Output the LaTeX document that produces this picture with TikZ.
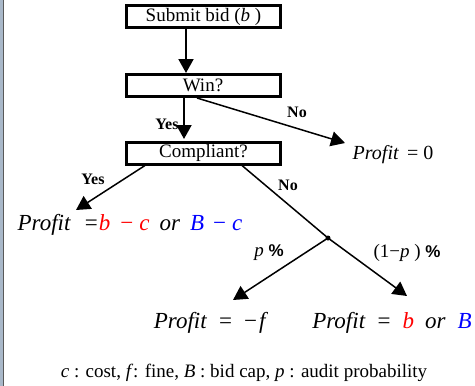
\documentclass[tikz,border=0pt]{standalone}
\usepackage{fontspec}
\setmainfont{Liberation Serif}
\setsansfont{Liberation Sans}
\usetikzlibrary{arrows.meta}
\definecolor{stripblue}{RGB}{169,184,201}
\newcommand\gp[1]{\hspace{#1pt}}
\newcommand\pct{\textsf{\fontsize{17}{19}\selectfont\bfseries\%}}
\begin{document}
\begin{tikzpicture}[x=1pt, y=-1pt, every node/.style={font=\fontsize{19}{21}\selectfont, inner sep=0pt},
  stepbox/.style={draw, line width=3pt, minimum width=154pt, minimum height=22pt},
  lbl/.style={font=\fontsize{16}{18}\selectfont\bfseries},
  res/.style={font=\fontsize{23}{25}\selectfont},
  arr/.style={line width=1.5pt, -{Triangle[length=14pt,width=15pt]}}]
\useasboundingbox (0,0) rectangle (475,386);
\fill[stripblue] (0,0) rectangle (3,386);
\draw[line width=1pt, gray!70!black] (3.5,0) -- (3.5,386);
% boxes
\node[stepbox] (sub) at (203.5,16.5) {Submit bid (\textit{b} )};
\node[stepbox] (win) at (203,85.5) {Win?};
\node[stepbox] (comp) at (203.5,153) {Compliant?};
% outcomes
\node[font=\fontsize{20}{22}\selectfont] (zero) at (393,155) {\textit{Profit}\gp{8}=\gp{5}0};
\node[res] (ok) at (130,225) {\textit{Profit}\gp{14}=\gp{1}\textcolor{red}{\textit{b}\gp{10}−\gp{6}\textit{c}}\gp{10}\textit{or}\gp{10}\textcolor{blue}{\textit{B}\gp{9}−\gp{6}\textit{c}}};
\node[res] (fine) at (211,323) {\textit{Profit}\gp{12}=\gp{12}−\gp{2}\textit{f}};
\node[res] (pass) at (392,323) {\textit{Profit}\gp{12}=\gp{12}\textcolor{red}{\textit{b}}\gp{11}\textit{or}\gp{12}\textcolor{blue}{\textit{B}}};
\fill (328,238) circle (2.5pt) coordinate (split);
% labels
\node[lbl] (y1) at (167,124) {Yes};
\node[lbl] (n1) at (297,112) {No};
\node[lbl] (y2) at (93,179) {Yes};
\node[lbl] (n2) at (288,185) {No};
\node (pp) at (269,253) {\textit{p} \pct};
\node (qq) at (407,253) {(1−\textit{p} ) \pct};
\node (note) at (244,373) {\textit{c} : cost, \textit{f}: fine, \textit{B} : bid cap, \textit{p} : audit probability};
% arrow ends
\coordinate (zeroTip) at (345,143);
\coordinate (okTip) at (76,210);
\coordinate (fineTip) at (233,300);
\coordinate (passTip) at (407,296);
\draw[arr, line width=2pt] ([xshift=-17.5pt]sub.south) -- ([xshift=-17pt]win.north);
\draw[arr, line width=2pt] ([xshift=-19pt]win.south) -- ([xshift=-19.5pt,yshift=1.5pt]comp.north);
\draw[arr] ([xshift=-6pt]win.south) -- (zeroTip);
\draw[arr] ([xshift=-58.5pt]comp.south) -- (okTip);
\draw[line width=1.5pt] ([xshift=38.5pt]comp.south) -- (split);
\draw[arr] (split) -- (passTip);
\draw[arr] (split) -- (fineTip);
\end{tikzpicture}
\end{document}
